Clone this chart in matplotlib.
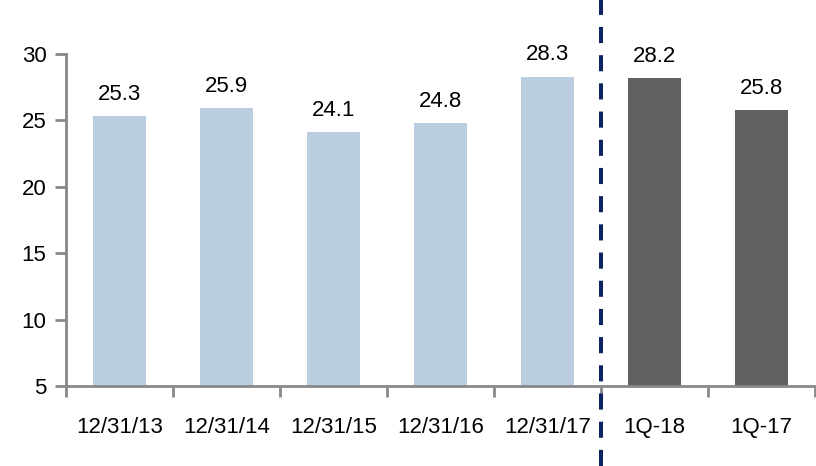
import matplotlib
matplotlib.use('Agg')
import matplotlib.pyplot as plt
import matplotlib.transforms as mtransforms
from matplotlib.lines import Line2D

plt.rcParams['font.family'] = ['Liberation Sans', 'DejaVu Sans']

categories = ['12/31/13', '12/31/14', '12/31/15', '12/31/16', '12/31/17', '1Q-18', '1Q-17']
values = [25.3, 25.9, 24.1, 24.8, 28.3, 28.2, 25.8]
bar_colors = ['#B9CDDF'] * 5 + ['#606060'] * 2
yticks = [5, 10, 15, 20, 25, 30]

fig = plt.figure(figsize=(8.16, 4.66), dpi=100)
ax = fig.add_axes([66 / 816, 80 / 466, 749 / 816, 332 / 466])

x = list(range(len(categories)))
ax.bar(x, [v - 5 for v in values], bottom=5, width=0.5, color=bar_colors)
for xi, v in zip(x, values):
    ax.annotate(f"{v:.1f}", (xi, v), xytext=(0, 8), textcoords='offset points',
                ha='center', va='bottom', fontsize=16)

ax.set_xlim(-0.5, len(categories) - 0.5)
ax.set_ylim(5, 30)
ax.set_yticks(yticks)
ax.set_xticks(x)
ax.set_xticklabels(categories)
ax.set_xticks([i - 0.5 for i in range(len(categories) + 1)], minor=True)
ax.tick_params(axis='x', which='major', length=0, pad=22, labelsize=16)
ax.tick_params(axis='x', which='minor', length=8, width=2, color='#888888')
ax.tick_params(axis='y', length=8, width=2, color='#888888', pad=6, labelsize=16)

for s in ('top', 'right'):
    ax.spines[s].set_visible(False)
for s in ('left', 'bottom'):
    ax.spines[s].set_color('#888888')
    ax.spines[s].set_linewidth(2)

# divider between year-end and quarterly figures
trans = mtransforms.blended_transform_factory(ax.transData, fig.transFigure)
fig.add_artist(Line2D([4.5, 4.5], [0, 1], transform=trans, color='#0C2461',
                      linewidth=2.9, dashes=(4, 3)))

fig.savefig('out.png', dpi=100)
